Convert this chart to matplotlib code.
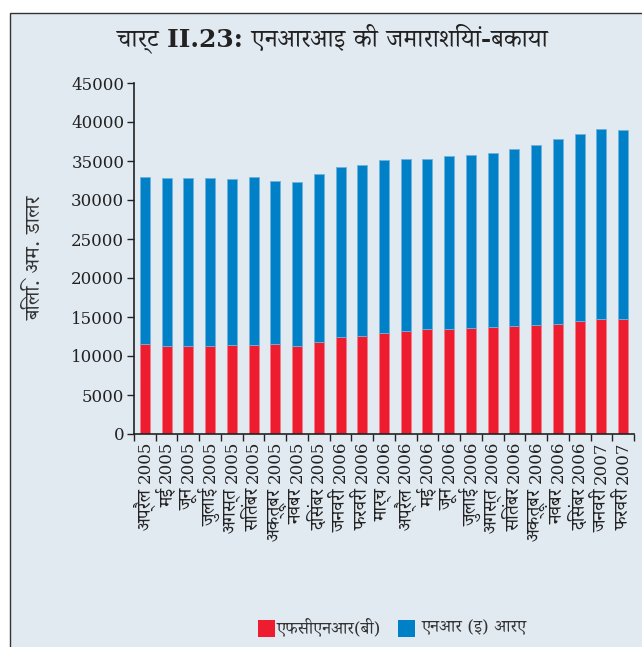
import matplotlib
matplotlib.use("Agg")
import matplotlib.pyplot as plt
from matplotlib import font_manager
from matplotlib.ft2font import FT2Font
from matplotlib.patches import Rectangle
import numpy as np

# ---- data ----
months = ["अप्रैल", "मई", "जून", "जुलाई", "अगस्त", "सितंबर", "अक्तूबर", "नवंबर", "दिसंबर",
          "जनवरी", "फरवरी", "मार्च", "अप्रैल", "मई", "जून", "जुलाई", "अगस्त", "सितंबर",
          "अक्तूबर", "नवंबर", "दिसंबर", "जनवरी", "फरवरी"]
years = ["2005"] * 9 + ["2006"] * 12 + ["2007"] * 2
fcnr_b = [11500, 11320, 11320, 11280, 11450, 11410, 11500, 11320, 11750, 12440, 12610,
          12990, 13200, 13420, 13460, 13590, 13720, 13800, 14020, 14150, 14490, 14740, 14740]
total = [32950, 32780, 32780, 32780, 32740, 32910, 32440, 32310, 33290, 34270, 34530,
         35130, 35260, 35300, 35680, 35720, 35980, 36540, 37100, 37820, 38420, 39150, 38940]
nre_ra = [t - f for t, f in zip(total, fcnr_b)]

title = "चार्ट II.23: एनआरआइ की जमाराशियां-बकाया"
ylabel = "बिलि. अम. डालर"
legend_labels = ["एफसीएनआर(बी)", "एनआर (इ) आरए"]

# ---- find a font with Devanagari ----
def find_deva():
    best = None
    for f in font_manager.fontManager.ttflist:
        try:
            cm = FT2Font(f.fname).get_charmap()
        except Exception:
            continue
        if 0x0915 in cm and 0x093E in cm:
            if best is None or ("Noto" in f.name and "UI" not in f.name):
                best = f.name
    return best

deva = find_deva()
fams = ["DejaVu Serif"] + ([deva] if deva else []) + ["DejaVu Sans"]
plt.rcParams["font.family"] = fams

W, H = 642, 647
fig = plt.figure(figsize=(W / 100, H / 100), dpi=100)
fig.patch.set_facecolor("white")
bg = "#e1e9f1"
fig.patches.append(Rectangle((10 / W, -0.05), 1.1, (H - 13) / H + 0.05,
                             transform=fig.transFigure, facecolor=bg,
                             edgecolor="#333333", linewidth=1.0, zorder=-10))

ax = fig.add_axes([134 / W, (H - 434) / H, 500 / W, 351 / H])
ax.set_facecolor("none")
ax.set_zorder(5)
x = np.arange(len(months))
red = "#ed1c2e"
blue = "#0080c6"
ax.bar(x, fcnr_b, width=0.46, color=red, edgecolor="#f37a85", linewidth=0.6)
ax.bar(x, nre_ra, bottom=fcnr_b, width=0.46, color=blue, edgecolor="#6fb3dd", linewidth=0.6)

ax.set_xlim(-0.5, len(months) - 0.5)
ax.set_ylim(0, 45000)
ax.set_yticks(np.arange(0, 45001, 5000))
ax.tick_params(axis="y", labelsize=12, length=5, width=1, colors="#222222", pad=2)
ax.set_xticks(np.arange(-0.5, len(months), 1.0))
ax.set_xticklabels([])
ax.tick_params(axis="x", length=5, width=1, colors="#222222")
for s in ["top", "right"]:
    ax.spines[s].set_visible(False)
for s in ["left", "bottom"]:
    ax.spines[s].set_color("#222222")
    ax.spines[s].set_linewidth(1.2)

xt = ax.get_xaxis_transform()
for i, (m, yv) in enumerate(zip(months, years)):
    ax.annotate(yv, (i, 0), xycoords=xt, xytext=(0, -7), textcoords="offset pixels",
                rotation=90, ha="center", va="top", fontsize=12, color="#222222")
    ax.annotate(m, (i, 0), xycoords=xt, xytext=(0, -54), textcoords="offset pixels",
                rotation=90, ha="center", va="top", fontsize=13.5, color="#222222")

fig.text(35 / W, 1 - 258 / H, ylabel, rotation=90, ha="center", va="center",
         fontsize=15, color="#333333")
fig.text(332 / W, 1 - 38 / H, title, ha="center", va="center",
         fontsize=18, fontweight="bold", color="#222222")

# legend
fig.patches.append(Rectangle((258 / W, 1 - 637 / H), 17 / W, 17 / H,
                             transform=fig.transFigure, facecolor=red, edgecolor="none"))
fig.text(277 / W, 1 - 628 / H, legend_labels[0], ha="left", va="center",
         fontsize=12.5, color="#333333")
fig.patches.append(Rectangle((398 / W, 1 - 637 / H), 17 / W, 17 / H,
                             transform=fig.transFigure, facecolor=blue, edgecolor="none"))
fig.text(422 / W, 1 - 628 / H, legend_labels[1], ha="left", va="center",
         fontsize=12.5, color="#333333")

fig.savefig("out.png", dpi=100, facecolor=fig.get_facecolor())
